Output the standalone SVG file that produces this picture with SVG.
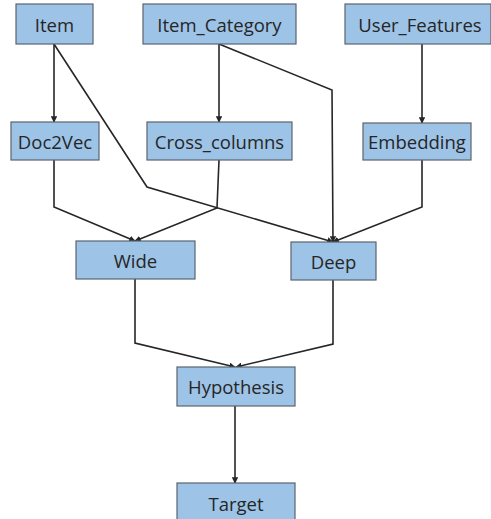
<svg xmlns="http://www.w3.org/2000/svg" width="491" height="519" viewBox="0 0 491 519">
  <style>
    .box { fill: #9dc3e6; stroke: #5b6470; stroke-width: 1.2; }
    .lbl { font-family: "Open Sans", "Noto Sans", sans-serif; font-size: 18.5px; fill: #262626; text-anchor: middle; dominant-baseline: central; }
    .edge { fill: none; stroke: #262626; stroke-width: 1.6; marker-end: url(#arrow); }
  </style>
  <defs>
    <marker id="arrow" viewBox="0 0 10 10" refX="9" refY="5" markerWidth="4" markerHeight="4" orient="auto" markerUnits="strokeWidth">
      <path d="M0,0 L10,5 L0,10 z" fill="#262626"/>
    </marker>
  </defs>

  <g id="connectors">
    <path class="edge" d="M54,44 L54,122"/>
    <path class="edge" d="M54,44 L147,187 L333,242"/>
    <path class="edge" d="M219,44 L219,122"/>
    <path class="edge" d="M219,44 L332,90 L333,242"/>
    <path class="edge" d="M422,44 L422,123"/>
    <path class="edge" d="M54,160 L54,207 L135,241"/>
    <path class="edge" d="M219,160 L217,208 L135,241"/>
    <path class="edge" d="M422,160 L422,207 L333,242"/>
    <path class="edge" d="M135,279 L135,343 L235,367"/>
    <path class="edge" d="M333,280 L333,344 L236,367"/>
    <path class="edge" d="M235,406 L235,483"/>
  </g>

  <g id="item"><rect class="box" x="16" y="4" width="77" height="40"/><text class="lbl" x="54.5" y="24">Item</text></g>
  <g id="item_category"><rect class="box" x="143" y="4" width="153" height="40"/><text class="lbl" x="219.5" y="24">Item_Category</text></g>
  <g id="user_features"><rect class="box" x="345" y="4" width="146" height="40"/><text class="lbl" x="420" y="24">User_Features</text></g>
  <g id="doc2vec"><rect class="box" x="11" y="122" width="88" height="38"/><text class="lbl" x="55" y="141">Doc2Vec</text></g>
  <g id="cross_columns"><rect class="box" x="147" y="122" width="145" height="38"/><text class="lbl" x="219.5" y="141">Cross_columns</text></g>
  <g id="embedding"><rect class="box" x="363" y="123" width="108" height="37"/><text class="lbl" x="417" y="141.5">Embedding</text></g>
  <g id="wide"><rect class="box" x="76" y="241" width="119" height="38"/><text class="lbl" x="135.5" y="260">Wide</text></g>
  <g id="deep"><rect class="box" x="291" y="242" width="85" height="38"/><text class="lbl" x="333.5" y="261">Deep</text></g>
  <g id="hypothesis"><rect class="box" x="177" y="367" width="118" height="39"/><text class="lbl" x="236" y="386.5">Hypothesis</text></g>
  <g id="target"><rect class="box" x="177" y="483" width="118" height="40"/><text class="lbl" x="236" y="503">Target</text></g>
</svg>
